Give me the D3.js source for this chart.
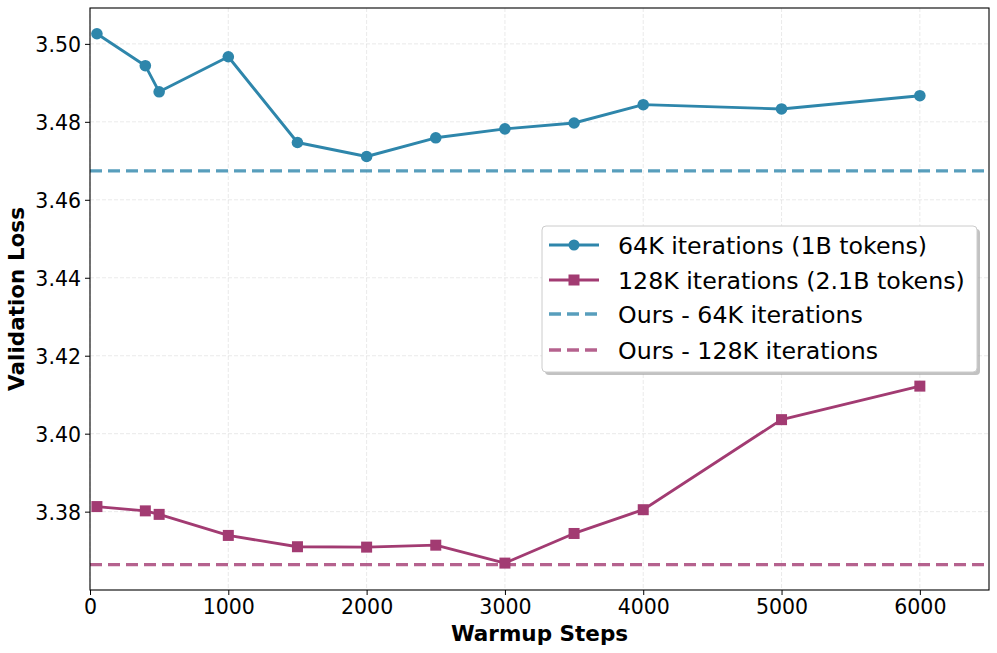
<!DOCTYPE html>
<html><head><meta charset="utf-8">
<script src="https://cdn.jsdelivr.net/npm/d3@7"></script>
<style>body{margin:0;background:#fff}svg{display:block;font-family:"DejaVu Sans",sans-serif}</style>
</head><body><svg id="c" width="997" height="653"></svg>
<script>
const steps = [50, 400, 500, 1000, 1500, 2000, 2500, 3000, 3500, 4000, 5000, 6000];
const loss64K = [3.5026, 3.4944, 3.4877, 3.4967, 3.4747, 3.4711, 3.4759, 3.4782, 3.4797, 3.4844, 3.4833, 3.4867];
const loss128K = [3.3813, 3.3802, 3.3793, 3.3739, 3.3710, 3.3709, 3.3714, 3.3668, 3.3744, 3.3805, 3.4036, 3.4122];
const ours64K = 3.4674;
const ours128K = 3.3664;
const xTicks = [0, 1000, 2000, 3000, 4000, 5000, 6000];
const yTicks = [3.38, 3.40, 3.42, 3.44, 3.46, 3.48, 3.50];
const legendLabels = ["64K iterations (1B tokens)", "128K iterations (2.1B tokens)", "Ours - 64K iterations", "Ours - 128K iterations"];

const blue = "#2E86AB", purple = "#A23B72";
const svg = d3.select("#c");
const L = 90, R = 989, T = 8, B = 590;
const x = d3.scaleLinear().domain([0, 6500]).range([L, R]);
const y = d3.scaleLinear().domain([3.3599, 3.5092]).range([B, T]);

// grid
const g = svg.append("g");
g.selectAll(".gx").data(xTicks).join("line").attr("x1", d => x(d)).attr("x2", d => x(d)).attr("y1", T).attr("y2", B)
  .attr("stroke", "#b0b0b0").attr("stroke-opacity", 0.3).attr("stroke-dasharray", "4,2").attr("stroke-width", 0.9);
g.selectAll(".gy").data(yTicks).join("line").attr("y1", d => y(d)).attr("y2", d => y(d)).attr("x1", L).attr("x2", R)
  .attr("stroke", "#b0b0b0").attr("stroke-opacity", 0.3).attr("stroke-dasharray", "4,2").attr("stroke-width", 0.9);

// dashed reference lines
svg.append("line").attr("x1", L).attr("x2", R).attr("y1", y(ours64K)).attr("y2", y(ours64K))
  .attr("stroke", blue).attr("stroke-opacity", 0.8).attr("stroke-width", 3.3).attr("stroke-dasharray", "12,6");
svg.append("line").attr("x1", L).attr("x2", R).attr("y1", y(ours128K)).attr("y2", y(ours128K))
  .attr("stroke", purple).attr("stroke-opacity", 0.8).attr("stroke-width", 3.3).attr("stroke-dasharray", "12,6");

const line = d3.line().x(d => x(d[0])).y(d => y(d[1]));
const d64 = steps.map((s, i) => [s, loss64K[i]]);
const d128 = steps.map((s, i) => [s, loss128K[i]]);
svg.append("path").attr("d", line(d64)).attr("fill", "none").attr("stroke", blue).attr("stroke-width", 2.9).attr("stroke-linejoin", "round");
svg.selectAll(".c64").data(d64).join("circle").attr("cx", d => x(d[0])).attr("cy", d => y(d[1])).attr("r", 5.8).attr("fill", blue);
svg.append("path").attr("d", line(d128)).attr("fill", "none").attr("stroke", purple).attr("stroke-width", 2.9).attr("stroke-linejoin", "round");
svg.selectAll(".s128").data(d128).join("rect").attr("x", d => x(d[0]) - 5.5).attr("y", d => y(d[1]) - 5.5).attr("width", 11).attr("height", 11).attr("fill", purple);

// axes
const xa = svg.append("g").attr("transform", `translate(0,${B})`).call(d3.axisBottom(x).tickValues(xTicks).tickFormat(d3.format("d")).tickSizeOuter(0).tickSize(5));
const ya = svg.append("g").attr("transform", `translate(${L},0)`).call(d3.axisLeft(y).tickValues(yTicks).tickFormat(d3.format(".2f")).tickSizeOuter(0).tickSize(5));
[xa, ya].forEach(a => { a.selectAll("text").attr("font-size", 20.5).attr("fill", "#000").attr("font-family", "DejaVu Sans"); a.selectAll("line").attr("stroke", "#000").attr("stroke-width", 1); a.select(".domain").remove(); });
xa.selectAll("text").attr("y", 23.5).attr("dy", 0);
ya.selectAll("text").attr("x", -9).attr("dy", "0.36em");
svg.append("rect").attr("x", L).attr("y", T).attr("width", R - L).attr("height", B - T).attr("fill", "none").attr("stroke", "#000").attr("stroke-width", 1.1);

svg.append("text").attr("x", (L + R) / 2).attr("y", 641).attr("text-anchor", "middle").attr("font-size", 21.5).attr("font-weight", "bold").text("Warmup Steps");
svg.append("text").attr("transform", `translate(24,${(T + B) / 2}) rotate(-90)`).attr("text-anchor", "middle").attr("font-size", 21.5).attr("font-weight", "bold").text("Validation Loss");

// legend
const lg = svg.append("g").attr("transform", "translate(542,226)");
lg.append("rect").attr("x", 3).attr("y", 3).attr("width", 435).attr("height", 146).attr("rx", 4).attr("fill", "#999").attr("opacity", 0.6);
lg.append("rect").attr("x", 0).attr("y", 0).attr("width", 435).attr("height", 146).attr("rx", 4).attr("fill", "#fff").attr("stroke", "#ccc").attr("stroke-width", 1);
const colors = [blue, purple, blue, purple];
const rowsY = [19, 54, 88, 124];
legendLabels.forEach((t, i) => {
  const yy = rowsY[i];
  const dashed = i >= 2;
  lg.append("line").attr("x1", 7).attr("x2", 57).attr("y1", yy).attr("y2", yy).attr("stroke", colors[i])
    .attr("stroke-width", dashed ? 3.3 : 2.9).attr("stroke-opacity", dashed ? 0.8 : 1).attr("stroke-dasharray", dashed ? "12,6" : null);
  if (i === 0) lg.append("circle").attr("cx", 32).attr("cy", yy).attr("r", 5.5).attr("fill", blue);
  if (i === 1) lg.append("rect").attr("x", 26.5).attr("y", yy - 5.5).attr("width", 11).attr("height", 11).attr("fill", purple);
  lg.append("text").attr("x", 76).attr("y", yy).attr("dy", "0.36em").attr("font-size", 23.7).attr("fill", "#000").text(t);
});
</script></body></html>
